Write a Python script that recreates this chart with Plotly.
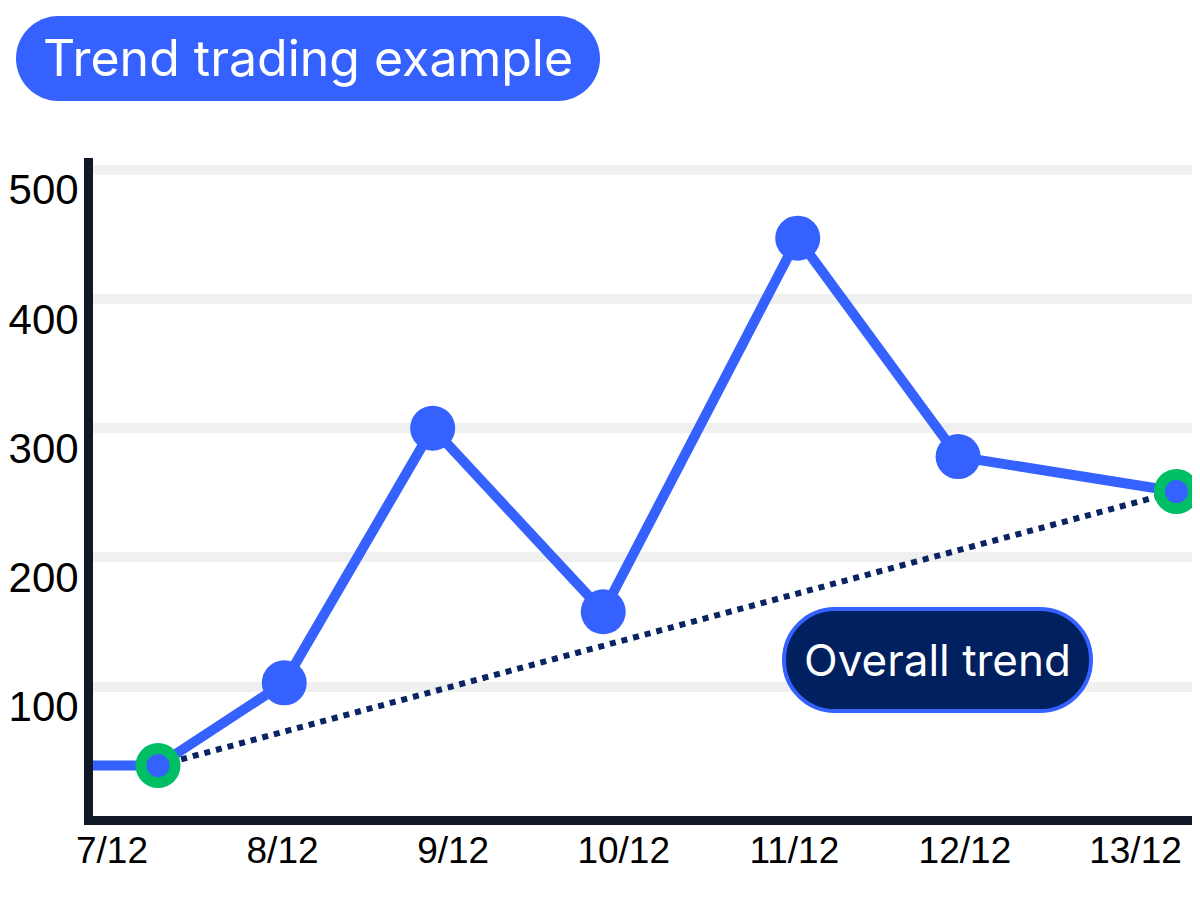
import plotly.graph_objects as go

# ---- data ----
dates = ["7/12", "8/12", "9/12", "10/12", "11/12", "12/12", "13/12"]
day_of_month = [7.27, 8.01, 8.88, 9.88, 11.02, 11.96, 13.24]   # x position of each point (day of December)
prices = [39, 103, 300, 158, 447, 278, 251]
tick_days = [7, 8, 9, 10, 11, 12, 13]
y_ticks = [100, 200, 300, 400, 500]
title_text = "Trend trading example"
trend_label = "Overall trend"

# ---- styling ----
BLUE = "#3561FF"
GREEN = "#00BE64"
NAVY_DOT = "#0A2463"
PILL_NAVY = "#002060"
AXIS = "#111827"
GRID = "#F0F0F0"

PAGE_OFF = 8          # default body margin of the html page
W, H = 1200 - PAGE_OFF, 900 - PAGE_OFF
ML, MR, MT, MB = 85, 0, 150, 84
x_range = [6.889, 13.378]
y_range = [0, 509]

PW = W - ML - MR
PH = H - MT - MB


def px2paper(px, py):
    fx, fy = px - PAGE_OFF, py - PAGE_OFF
    return (fx - ML) / PW, (H - MB - fy) / PH


def pill_path(x0, y0, x1, y1, r):
    k = 0.5523 * r

    def P(x, y):
        a, b = px2paper(x, y)
        return f"{a:.5f},{b:.5f}"
    d = f"M {P(x0 + r, y0)} L {P(x1 - r, y0)} "
    d += f"C {P(x1 - r + k, y0)} {P(x1, y0 + r - k)} {P(x1, y0 + r)} "
    d += f"L {P(x1, y1 - r)} "
    d += f"C {P(x1, y1 - r + k)} {P(x1 - r + k, y1)} {P(x1 - r, y1)} "
    d += f"L {P(x0 + r, y1)} "
    d += f"C {P(x0 + r - k, y1)} {P(x0, y1 - r + k)} {P(x0, y1 - r)} "
    d += f"L {P(x0, y0 + r)} "
    d += f"C {P(x0, y0 + r - k)} {P(x0 + r - k, y0)} {P(x0 + r, y0)} Z"
    return d


fig = go.Figure()

# overall trend (dotted)
fig.add_trace(go.Scatter(
    x=[day_of_month[0], day_of_month[-1]], y=[prices[0], prices[-1]],
    mode="lines", line=dict(color=NAVY_DOT, width=6, dash="6px,6px"),
    hoverinfo="skip", showlegend=False, cliponaxis=False))

# price line (with lead-in from the axis)
fig.add_trace(go.Scatter(
    x=[x_range[0]] + day_of_month, y=[prices[0]] + prices,
    mode="lines", line=dict(color=BLUE, width=10),
    hoverinfo="skip", showlegend=False, cliponaxis=False))

# middle markers
fig.add_trace(go.Scatter(
    x=day_of_month[1:-1], y=prices[1:-1], mode="markers",
    marker=dict(color=BLUE, size=45, line=dict(width=0)),
    text=dates[1:-1], showlegend=False, cliponaxis=False))

# start / end ring markers
fig.add_trace(go.Scatter(
    x=[day_of_month[0], day_of_month[-1]], y=[prices[0], prices[-1]], mode="markers",
    marker=dict(color=BLUE, size=34, line=dict(width=11, color=GREEN)),
    text=[dates[0], dates[-1]], showlegend=False, cliponaxis=False))

shapes = [
    dict(type="path", xref="paper", yref="paper", layer="above",
         path=pill_path(16, 16, 600, 101, 42.5), fillcolor=BLUE, line=dict(width=0)),
    dict(type="path", xref="paper", yref="paper", layer="above",
         path=pill_path(784, 609, 1091, 711, 51), fillcolor=PILL_NAVY,
         line=dict(width=4, color=BLUE)),
]

tx, ty = px2paper(308, 58)
ox, oy = px2paper(937, 660)
annotations = [
    dict(xref="paper", yref="paper", x=tx, y=ty, text=title_text, showarrow=False,
         xanchor="center", yanchor="middle",
         font=dict(family="Inter, Liberation Sans, sans-serif", size=50, color="white")),
    dict(xref="paper", yref="paper", x=ox, y=oy, text=trend_label, showarrow=False,
         xanchor="center", yanchor="middle",
         font=dict(family="Inter, Liberation Sans, sans-serif", size=44, color="white")),
]

fig.update_layout(
    width=W, height=H,
    margin=dict(l=ML, r=MR, t=MT, b=MB, pad=0),
    paper_bgcolor="white", plot_bgcolor="white",
    shapes=shapes, annotations=annotations,
    xaxis=dict(range=x_range, tickvals=tick_days, ticktext=dates, automargin=False,
               showgrid=False, zeroline=False, showline=True, linewidth=9, linecolor=AXIS,
               ticks="", ticklabelstandoff=-6,
               tickfont=dict(family="Liberation Sans, Arial, sans-serif", size=37, color="black"),
               fixedrange=True),
    yaxis=dict(range=y_range, tickvals=y_ticks, automargin=False,
               showgrid=True, gridcolor=GRID, gridwidth=10,
               zeroline=False, showline=True, linewidth=9, linecolor=AXIS,
               ticks="", ticklabelshift=20, ticklabelstandoff=-3,
               tickfont=dict(family="Liberation Sans, Arial, sans-serif", size=42, color="black"),
               fixedrange=True),
    showlegend=False,
)

fig.write_html("out.html")
